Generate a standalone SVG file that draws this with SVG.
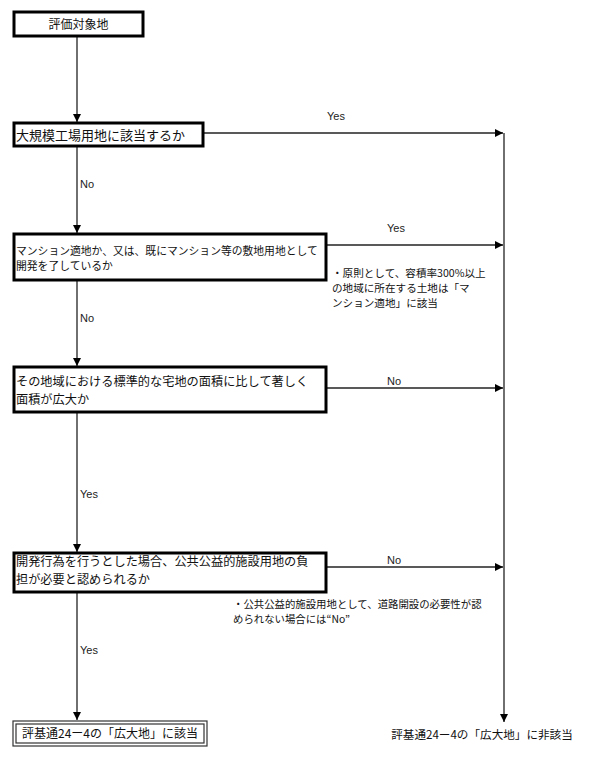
<svg xmlns="http://www.w3.org/2000/svg" width="600" height="760" viewBox="0 0 600 760">
<style>
.box{fill:#fff;stroke:#000;stroke-width:3}
.ln{fill:none;stroke:#222;stroke-width:1.3}
.t{font-family:"Noto Sans CJK JP","Noto Sans",sans-serif;fill:#111}
.lbl{font-family:"Liberation Sans",Arial,sans-serif;font-size:11px;fill:#222}
</style>
<defs>
<marker id="ah" viewBox="0 0 10 10" refX="10" refY="5" markerWidth="8" markerHeight="8" markerUnits="userSpaceOnUse" orient="auto">
<path d="M0,0 L10,5 L0,10 z" fill="#000"/>
</marker>
</defs>
<g id="connectors">
<line class="ln" x1="77" y1="36" x2="77" y2="122" marker-end="url(#ah)"/>
<line class="ln" x1="77" y1="146" x2="77" y2="233" marker-end="url(#ah)"/>
<line class="ln" x1="77" y1="280" x2="77" y2="366" marker-end="url(#ah)"/>
<line class="ln" x1="77" y1="412" x2="77" y2="552" marker-end="url(#ah)"/>
<line class="ln" x1="77" y1="592" x2="77" y2="720" marker-end="url(#ah)"/>
<line class="ln" x1="203" y1="133" x2="503" y2="133" marker-end="url(#ah)"/>
<line class="ln" x1="326" y1="245" x2="503" y2="245" marker-end="url(#ah)"/>
<line class="ln" x1="326" y1="388" x2="503" y2="388" marker-end="url(#ah)"/>
<line class="ln" x1="326" y1="567" x2="503" y2="567" marker-end="url(#ah)"/>
<line class="ln" x1="504" y1="133" x2="504" y2="722" marker-end="url(#ah)"/>
<text class="lbl" x="327" y="120">Yes</text>
<text class="lbl" x="387" y="232">Yes</text>
<text class="lbl" x="387" y="385">No</text>
<text class="lbl" x="387" y="564">No</text>
<text class="lbl" x="80" y="188">No</text>
<text class="lbl" x="80" y="322">No</text>
<text class="lbl" x="80" y="498">Yes</text>
<text class="lbl" x="80" y="654">Yes</text>
</g>
<g id="n1">
<rect class="box" x="14" y="12" width="129" height="24"/>
<text class="t" x="78.5" y="29" font-size="12" text-anchor="middle">評価対象地</text>
</g>
<g id="n2">
<rect class="box" x="14" y="123" width="189" height="23"/>
<text class="t" x="16" y="140" font-size="13">大規模工場用地に該当するか</text>
</g>
<g id="n3">
<rect class="box" x="14" y="234" width="312" height="46"/>
<text class="t" x="16" y="255" font-size="10.8">マンション適地か、又は、既にマンション等の敷地用地として</text>
<text class="t" x="16" y="270" font-size="10.8">開発を了しているか</text>
</g>
<g id="note1">
<text class="t" x="332" y="277" font-size="10.6">・原則として、容積率300%以上</text>
<text class="t" x="332" y="292" font-size="10.6">の地域に所在する土地は「マ</text>
<text class="t" x="332" y="307" font-size="10.6">ンション適地」に該当</text>
</g>
<g id="n4">
<rect class="box" x="14" y="367" width="312" height="45"/>
<text class="t" x="16" y="386" font-size="12.2">その地域における標準的な宅地の面積に比して著しく</text>
<text class="t" x="16" y="404" font-size="12.2">面積が広大か</text>
</g>
<g id="n5">
<rect class="box" x="14" y="553" width="312" height="39"/>
<text class="t" x="16" y="566" font-size="12.2">開発行為を行うとした場合、公共公益的施設用地の負</text>
<text class="t" x="16" y="584" font-size="12.2">担が必要と認められるか</text>
</g>
<g id="note2">
<text class="t" x="233" y="608" font-size="10.4">・公共公益的施設用地として、道路開設の必要性が認</text>
<text class="t" x="233" y="623" font-size="10.4">められない場合には“No”</text>
</g>
<g id="n6">
<rect x="13" y="721" width="194" height="25" fill="#fff" stroke="#333" stroke-width="1.2"/>
<rect x="16" y="724" width="188" height="19" fill="none" stroke="#333" stroke-width="1.2"/>
<text class="t" x="110" y="738" font-size="12" text-anchor="middle">評基通24ー4の「広大地」に該当</text>
</g>
<g id="n7">
<text class="t" x="482" y="739" font-size="11.6" text-anchor="middle">評基通24ー4の「広大地」に非該当</text>
</g>
</svg>
